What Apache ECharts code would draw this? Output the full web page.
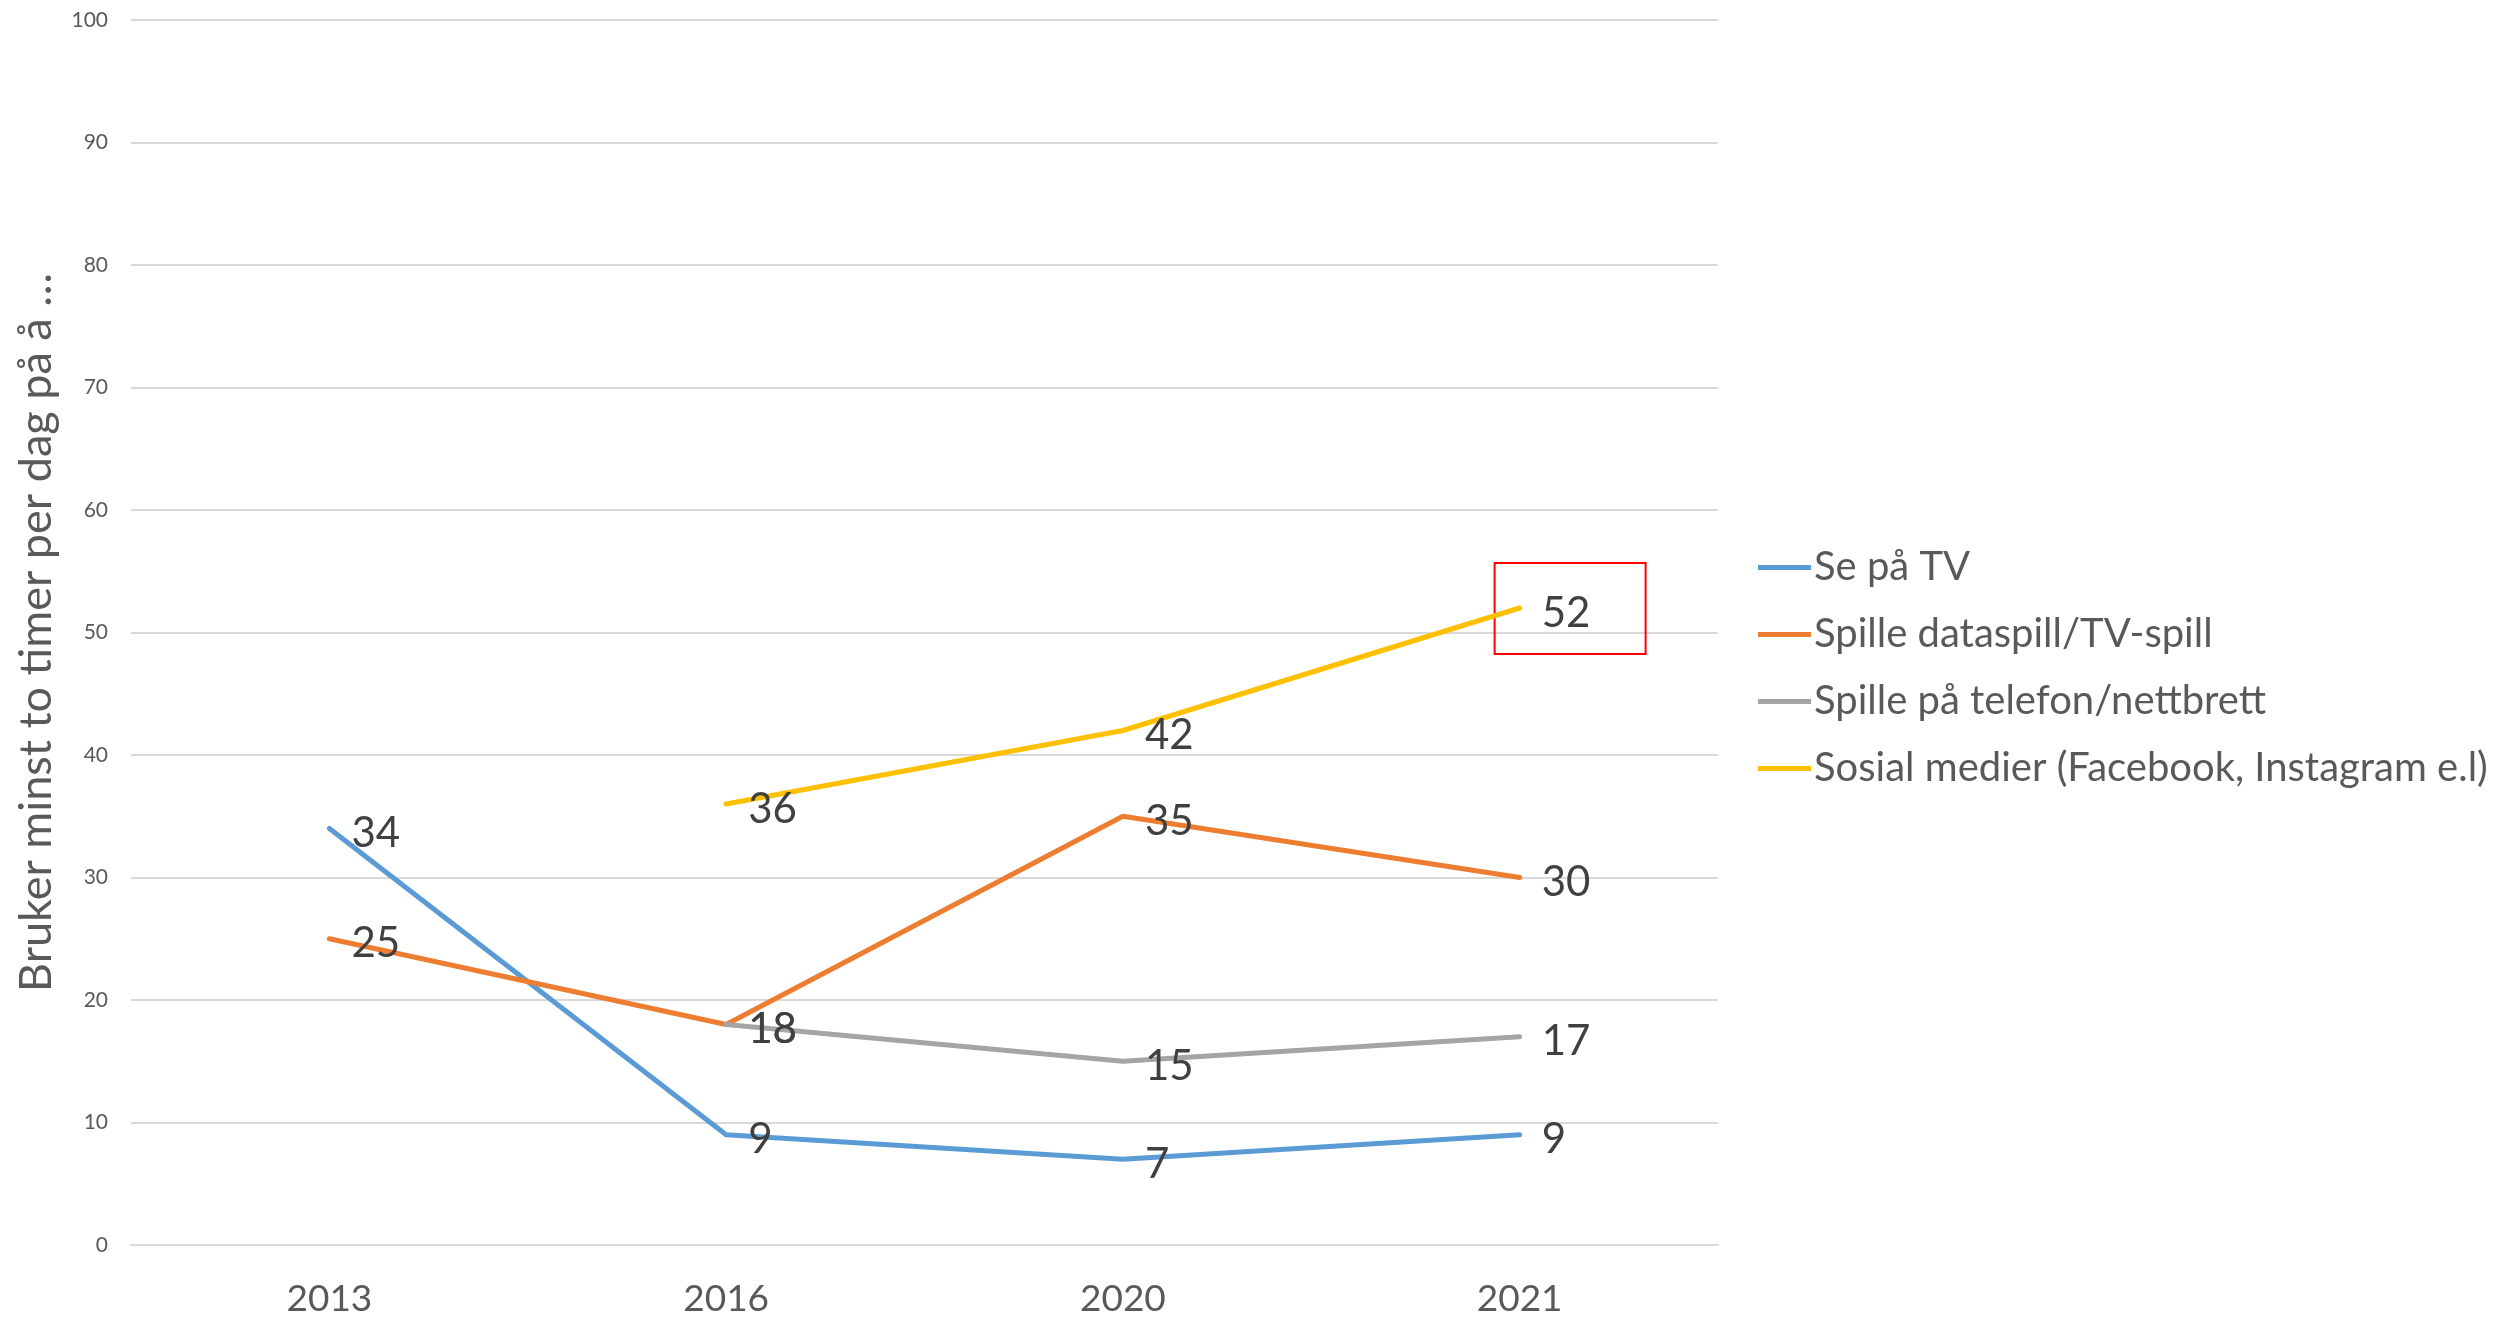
<!DOCTYPE html>
<html>
<head>
<meta charset="utf-8">
<script src="https://cdn.jsdelivr.net/npm/echarts@6/dist/echarts.min.js"></script>
<style>
  html, body { margin: 0; padding: 0; background: #ffffff; }
  #chart { width: 2511px; height: 1320px; }
</style>
</head>
<body>
<div id="chart"></div>
<script>
// Survey years
const years = ['2013', '2016', '2020', '2021'];

// Share using at least two hours per day on each activity (percent)
const seriesNames = [
  'Se på TV',
  'Spille dataspill/TV-spill',
  'Spille på telefon/nettbrett',
  'Sosial medier (Facebook, Instagram e.l)'
];
const tvValues = [34, 9, 7, 9];
const gamingValues = [25, 18, 35, 30];
const phoneValues = [null, 18, 15, 17];
const socialValues = [null, 36, 42, 52];

const yTicks = [0, 10, 20, 30, 40, 50, 60, 70, 80, 90, 100];
const yAxisTitle = 'Bruker minst to timer per dag på å …';

const colors = ['#5B9BD5', '#ED7D31', '#A5A5A5', '#FFC000'];
const fontFamily = 'Lato, "Open Sans", sans-serif';

const chart = echarts.init(document.getElementById('chart'));

function lineSeries(name, data, color) {
  return {
    name: name,
    type: 'line',
    data: data,
    color: color,
    symbol: 'circle',
    symbolSize: 0,
    showSymbol: true,
    lineStyle: { width: 5, color: color, cap: 'round' },
    label: {
      show: true,
      position: 'right',
      distance: 22,
      offset: [0, 5],
      color: '#404040',
      fontSize: 42,
      fontFamily: fontFamily
    },
    emphasis: { disabled: true },
    animation: false
  };
}

chart.setOption({
  backgroundColor: '#ffffff',
  animation: false,
  grid: { left: 131, right: 793, top: 20, bottom: 75, outerBoundsMode: 'none', containLabel: false },
  xAxis: {
    type: 'category',
    data: years,
    boundaryGap: true,
    axisLine: { show: true, lineStyle: { color: '#D9D9D9', width: 2 } },
    axisTick: { show: false },
    axisLabel: { color: '#595959', fontSize: 37, fontFamily: fontFamily, margin: 36 }
  },
  yAxis: {
    type: 'value',
    min: yTicks[0],
    max: yTicks[yTicks.length - 1],
    interval: yTicks[1] - yTicks[0],
    name: yAxisTitle,
    nameLocation: 'middle',
    nameGap: 72,
    nameTextStyle: { color: '#595959', fontSize: 45, fontFamily: fontFamily },
    axisLine: { show: false },
    axisTick: { show: false },
    axisLabel: { color: '#595959', fontSize: 21, fontFamily: fontFamily, margin: 23 },
    splitLine: { show: true, lineStyle: { color: '#D9D9D9', width: 2 } }
  },
  legend: {
    orient: 'vertical',
    left: 1753,
    top: 541,
    icon: 'rect',
    itemWidth: 53,
    itemHeight: 5,
    itemGap: 24,
    textStyle: { color: '#595959', fontSize: 40, lineHeight: 43, fontFamily: fontFamily, padding: [0, 0, 0, -2] },
    data: seriesNames
  },
  series: [
    lineSeries(seriesNames[0], tvValues, colors[0]),
    lineSeries(seriesNames[1], gamingValues, colors[1]),
    lineSeries(seriesNames[2], phoneValues, colors[2]),
    lineSeries(seriesNames[3], socialValues, colors[3])
  ]
});

// Red frame highlighting the latest social media value
const last = socialValues.length - 1;
const pt = chart.convertToPixel({ gridIndex: 0 }, [last, socialValues[last]]);
chart.setOption({
  graphic: [{
    type: 'rect',
    shape: { x: pt[0] - 25, y: pt[1] - 45, width: 151, height: 91 },
    style: { fill: 'none', stroke: '#FF0000', lineWidth: 2 },
    silent: true
  }]
});
</script>
</body>
</html>
